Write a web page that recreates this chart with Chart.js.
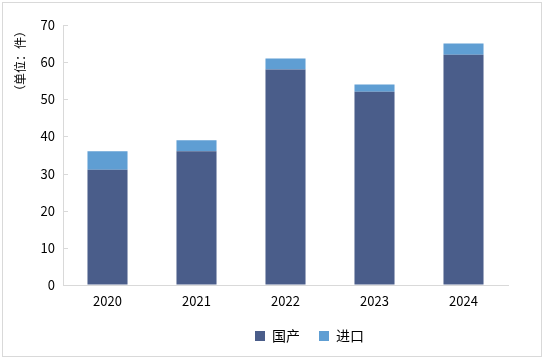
<!DOCTYPE html>
<html>
<head>
<meta charset="utf-8">
<script src="https://cdn.jsdelivr.net/npm/chart.js@4/dist/chart.umd.min.js"></script>
<style>
  html, body { margin: 0; padding: 0; background: #fff; }
  #wrap { position: relative; width: 543px; height: 358px; }
  #frame { position: absolute; left: 2px; top: 2px; width: 540px; height: 355px; box-sizing: border-box; border: 1px solid #d9d9d9; pointer-events: none; }
</style>
</head>
<body>
<div id="wrap">
  <canvas id="c"></canvas>
  <div id="frame"></div>
</div>
<script>
const categories = ['2020', '2021', '2022', '2023', '2024'];
const domestic = [31, 36, 58, 52, 62];
const imported = [5, 3, 3, 2, 3];
const seriesNames = ['国产', '进口'];
const yAxisTitle = '（单位：件）';
const yMin = 0, yMax = 70, yStep = 10;

const FONT = '"Noto Sans CJK SC", "Liberation Sans", sans-serif';
const AXIS = '#d9d9d9';

const innerTicks = {
  id: 'innerTicks',
  afterDatasetsDraw(chart) {
    const y = chart.scales.y;
    const ctx = chart.ctx;
    ctx.save();
    ctx.strokeStyle = AXIS;
    ctx.lineWidth = 1;
    y.ticks.forEach(t => {
      const py = Math.round(y.getPixelForValue(t.value)) + 0.5;
      ctx.beginPath();
      ctx.moveTo(chart.chartArea.left, py);
      ctx.lineTo(chart.chartArea.left + 5, py);
      ctx.stroke();
    });
    ctx.restore();
  }
};

const legendShift = {
  id: 'legendShift',
  afterLayout(chart) {
    if (chart.legend) { chart.legend.left += 24; chart.legend.right += 24; }
  }
};

new Chart(document.getElementById('c'), {
  type: 'bar',
  data: {
    labels: categories,
    datasets: [
      { label: seriesNames[0], data: domestic, backgroundColor: '#4a5d8a', barPercentage: 0.45, categoryPercentage: 1.0 },
      { label: seriesNames[1], data: imported, backgroundColor: '#5f9ed3', barPercentage: 0.45, categoryPercentage: 1.0 }
    ]
  },
  options: {
    responsive: true,
    maintainAspectRatio: false,
    animation: false,
    layout: { padding: { left: 0, right: 35, top: 25, bottom: 5 } },
    plugins: {
      legend: {
        position: 'bottom',
        fullSize: false,
        labels: { boxWidth: 10, boxHeight: 10, padding: 19, color: '#000', font: { family: FONT, size: 14 } }
      },
      tooltip: { enabled: false }
    },
    scales: {
      x: {
        stacked: true,
        grid: { display: true, drawOnChartArea: false, drawTicks: false },
        border: { display: true, color: AXIS },
        ticks: { color: '#000', padding: 8, font: { family: FONT, size: 13 } },
        afterFit(s) { s.height = 25; }
      },
      y: {
        stacked: true,
        min: yMin, max: yMax,
        grid: { display: true, drawOnChartArea: false, drawTicks: false },
        border: { display: true, color: AXIS },
        ticks: { stepSize: yStep, color: '#000', padding: 8, font: { family: FONT, size: 13 } },
        title: { display: true, text: yAxisTitle, align: 'end', color: '#000', padding: { top: 13, bottom: 0 }, font: { family: FONT, size: 12 } },
        afterFit(s) { s.width = 63; }
      }
    }
  },
  plugins: [innerTicks, legendShift]
});
</script>
</body>
</html>
